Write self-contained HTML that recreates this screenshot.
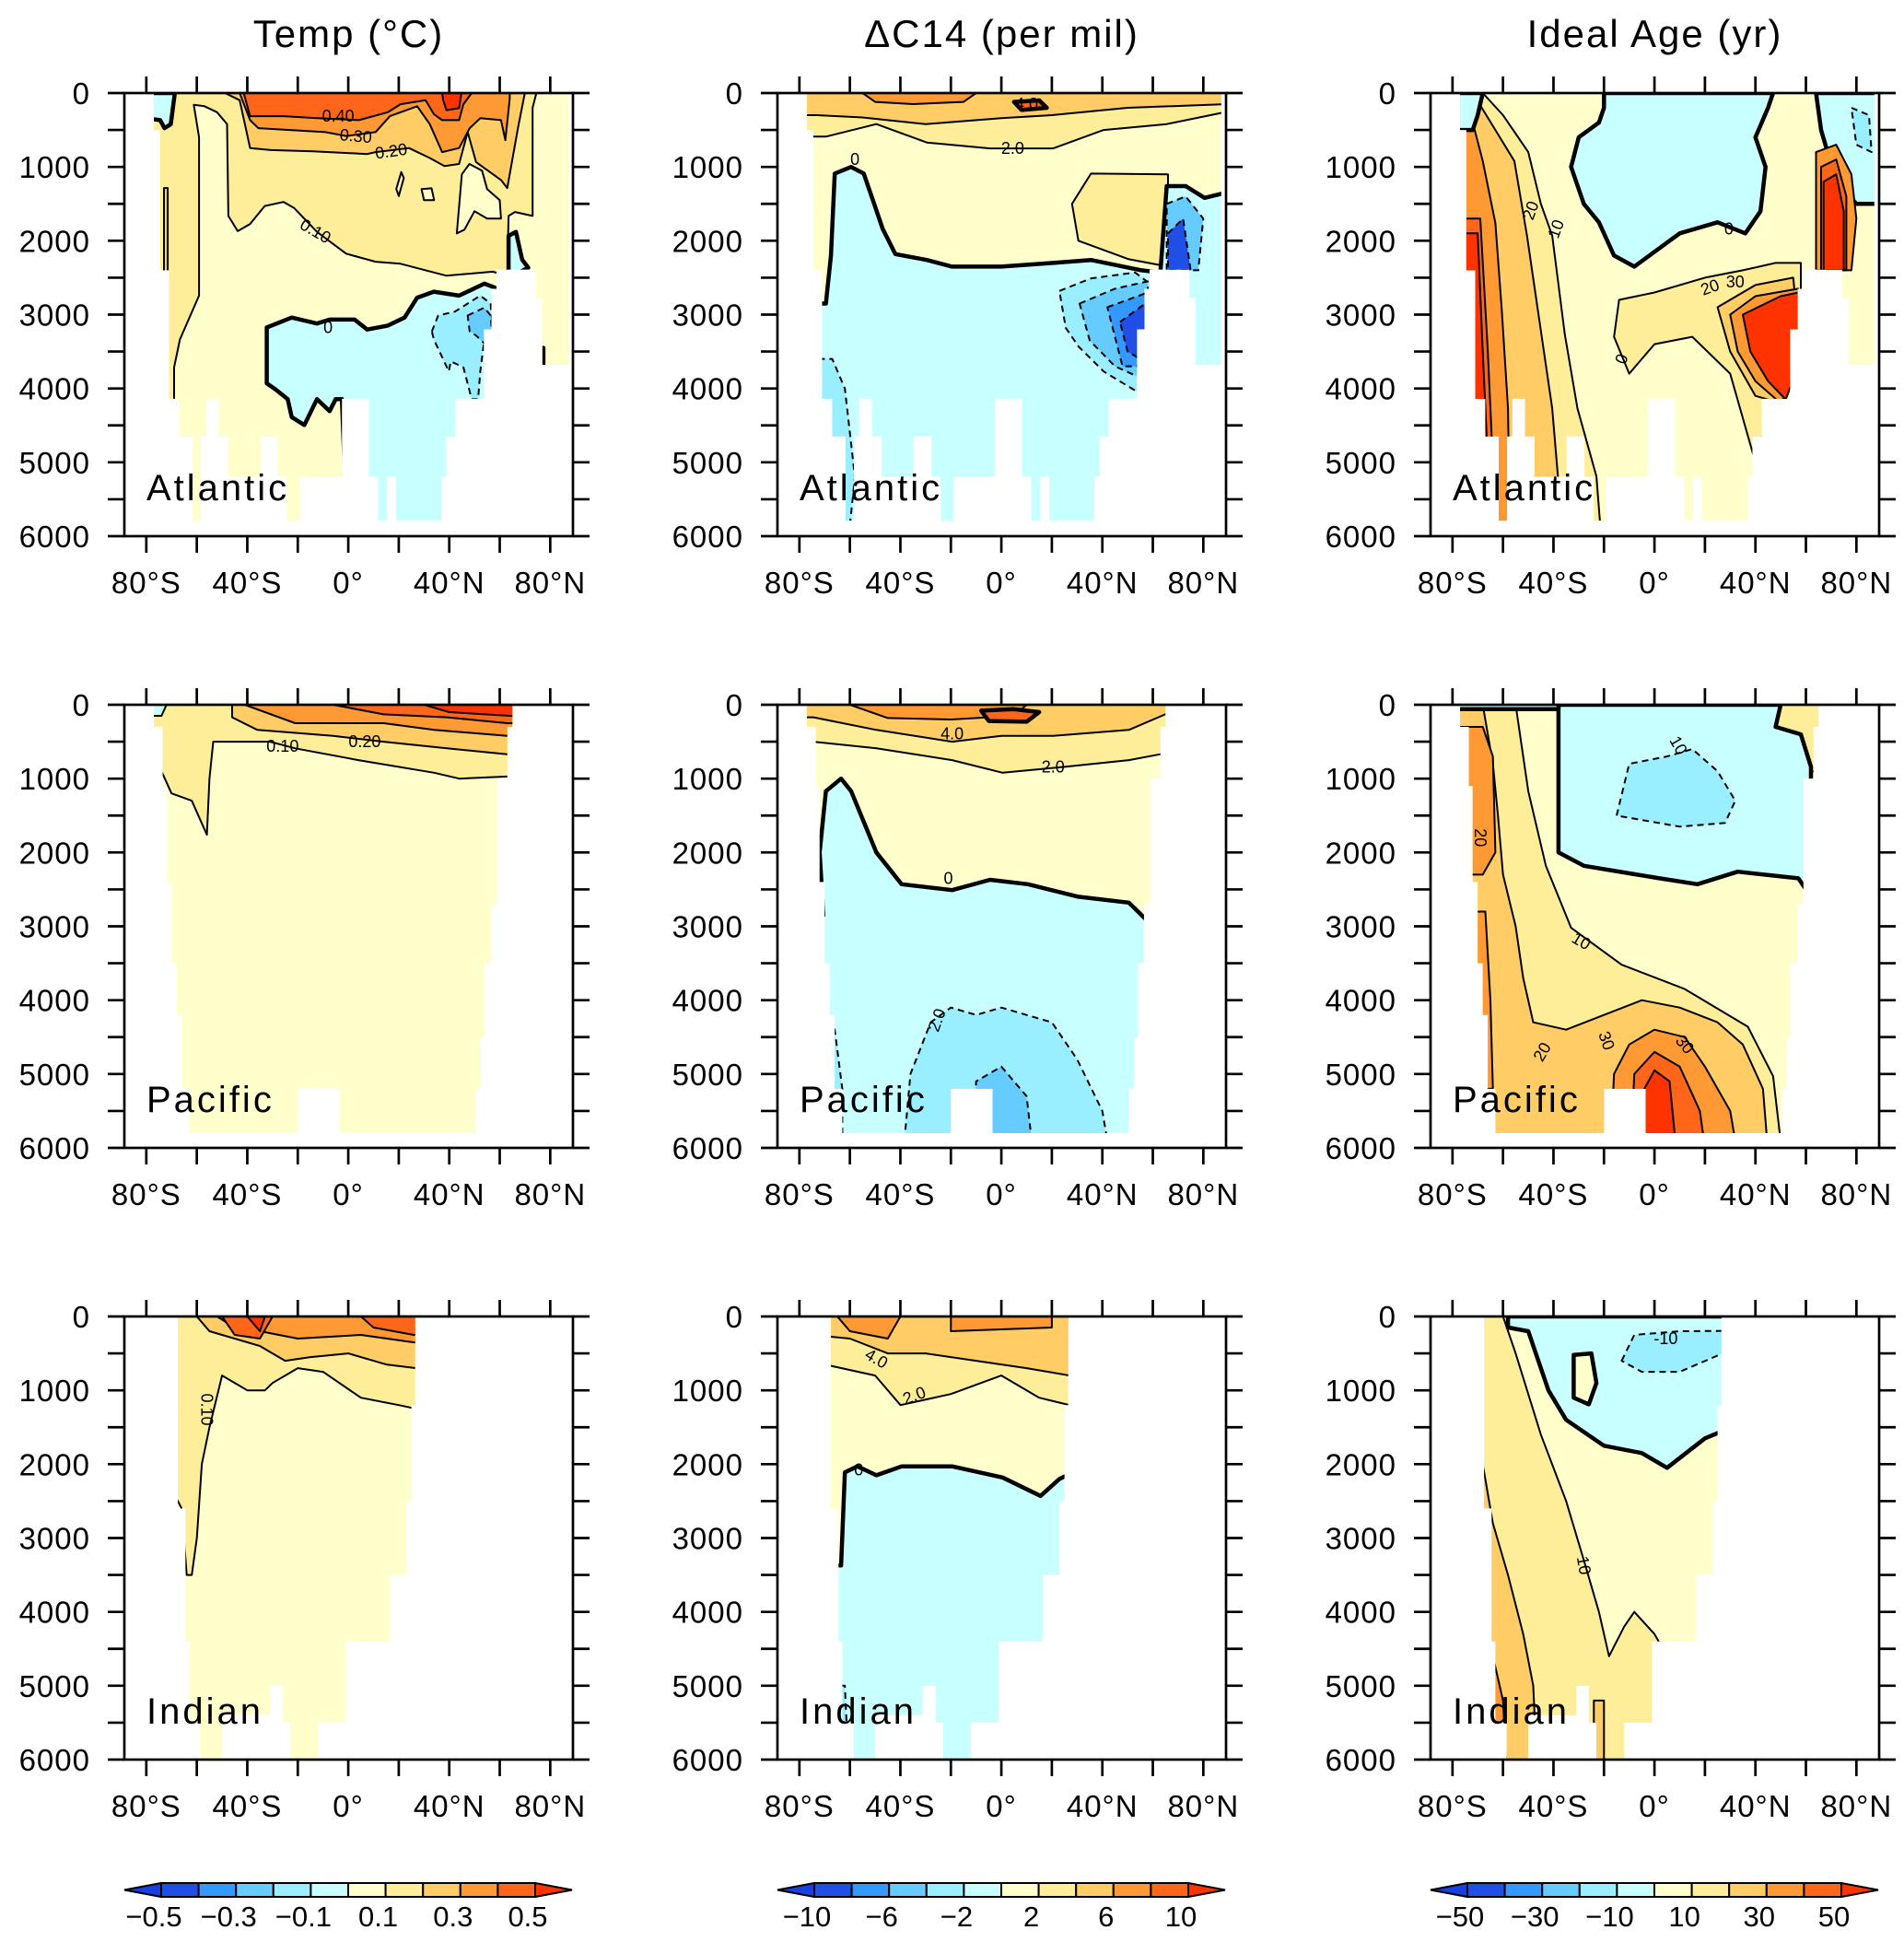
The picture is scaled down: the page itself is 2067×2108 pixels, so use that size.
<!DOCTYPE html>
<html><head><meta charset="utf-8"><title>Ocean sections</title>
<style>
html,body{margin:0;padding:0;background:#fff;}
svg{display:block;font-family:"Liberation Sans",sans-serif;}
</style></head>
<body>
<svg id="fig" width="2067" height="2108" viewBox="0 0 2067 2108" xmlns="http://www.w3.org/2000/svg"></svg>
<script>
const titles=["Temp (°C)","ΔC14 (per mil)","Ideal Age (yr)"];
const basinNames=["Atlantic","Pacific","Indian"];
const latTicks=[-80,-60,-40,-20,0,20,40,60,80];
const latLabels=[[-80,"80°S"],[-40,"40°S"],[0,"0°"],[40,"40°N"],[80,"80°N"]];
const depthTicks=[0,500,1000,1500,2000,2500,3000,3500,4000,4500,5000,5500,6000];
const depthLabels=[0,1000,2000,3000,4000,5000,6000];
const cbLabels=[["-0.5","-0.3","-0.1","0.1","0.3","0.5"],["-10","-6","-2","2","6","10"],["-50","-30","-10","10","30","50"]];
const palette={n5:'#1f4fe6',n4:'#3399ff',n3:'#66ccff',n2:'#99eeff',n1:'#c8ffff',p1:'#ffffcc',p2:'#ffee99',p3:'#ffcc66',p4:'#ff9933',p5:'#ff6619',p6:'#ff3300'};
const cbColors=['n5','n4','n3','n2','n1','p1','p2','p3','p4','p5'];

const maskAtl=[[-77,-74.5,500],[-74.5,-71,2400],[-71,-67,4140],[-67,-61.7,4650],[-61.7,-58.4,5790],[-58.4,-56.3,4650],[-56.3,-51.3,4140],[-51.3,-47.5,4650],[-47.5,-34.8,5195],[-34.8,-27.7,4650],[-27.7,-24,5195],[-24,-19,5790],[-19,-2.5,5195],[-2.5,8.2,4140],[8.2,11.8,5195],[11.8,15.3,5787],[15.3,19,5195],[19,36.8,5787],[36.8,38.8,5195],[38.8,42.5,4655],[42.5,53.7,4140],[53.7,56.7,3200],[56.7,58.7,2650],[58.7,74.4,2390],[74.4,76.9,2770],[76.9,87.1,3680]];
const maskPac=[[-77,-73.5,300],[-73.5,-72,1100],[-72,-70,2400],[-70,-68,3500],[-68,-66,4200],[-66,-63,5200],[-63,-20,5800],[-20,-3.5,5200],[-3.5,50.5,5800],[50.5,52.5,5200],[52.5,54,4500],[54,56.5,3500],[56.5,59,2700],[59,63,1000],[63,65,300]];
const maskInd=[[-67.5,-64.5,2600],[-64.5,-63,4400],[-63,-58.5,5500],[-58.5,-50,6000],[-50,-31,5400],[-31,-26,5000],[-26,-23,5500],[-23,-12,6000],[-12,-1,5500],[-1,16.5,4400],[16.5,23,3500],[23,25,2500],[25,26.5,1200]];
const masks=[maskAtl,maskPac,maskInd];

const tempAtl=[
 ['p2','none',[[-90,0],[90,0],[90,6500],[-90,6500]]],
 ['p1','thin',[[-61.2,160],[-57,178],[-52,260],[-48,420],[-47.5,1664],[-43.8,1870],[-38.9,1772],[-33.1,1529],[-25.6,1475],[-21.5,1556],[-12.4,1880],[-0.8,2176],[10.8,2284],[20.7,2311],[38.9,2473],[57.2,2419],[63,2473],[63.5,1664],[66,1610],[73,1664],[73,200],[74.5,0],[90,0],[90,6500],[-69,6500],[-69,3715],[-66.7,3337],[-59.1,2743],[-59.1,600]]],
 ['p1','thin',[[43,1900],[45,1100],[48,960],[53,1050],[55,1300],[60,1450],[60.5,1700],[55,1700],[50,1600],[46,1850]]],
 ['p1','thin',[[21,1070],[22,1150],[20,1394],[19,1300]]],
 ['p1','thin',[[29,1300],[33,1290],[34,1450],[30,1450]]],
 ['p3','thin',[[-73,1286],[-71.5,1286],[-71.5,2419],[-73,2419]]],
 ['p3','thin',[[-48.8,0],[-43,97],[-38.9,745],[-30.6,772],[-14,788],[7.5,826],[10.8,799],[24,745],[32.3,880],[38.1,988],[43.9,961],[47.3,529],[50.6,934],[60.5,1178],[63,1286],[67.2,475],[69.7,43],[70,0]]],
 ['p4','thin',[[-43,0],[-38.9,367],[-35.6,475],[-9.1,529],[-0.8,583],[10.8,529],[16.5,313],[27.3,178],[32.3,421],[37.2,799],[43.9,745],[48.1,475],[52.3,340],[60.5,367],[62.2,637],[63.9,97],[64,0]]],
 ['p5','thin',[[-41.4,0],[-38.9,313],[-25.6,313],[-12.4,340],[4.2,367],[15.7,259],[20.7,151],[30.6,97],[33.9,286],[37.2,367],[43.9,367],[45.6,151],[48.9,0]]],
 ['p6','thin',[[37.2,0],[44.8,0],[43.9,205],[38.9,232],[37.6,97]]],
 ['n1','thick',[[-32.3,3175],[-22.4,3040],[-12.4,3121],[-7.4,3067],[2.5,3067],[7.5,3202],[15.7,3148],[22.3,3040],[27.3,2770],[33.9,2689],[43.9,2743],[53.9,2581],[58.1,2635],[58.1,6500],[-1.6,6500],[-1.6,4954],[-2.5,4145],[-5,4145],[-7.4,4307],[-12.4,4145],[-17.4,4496],[-22.4,4388],[-24,4145],[-28.9,4011],[-32.3,3930]]],
 ['n2','dash',[[33.1,3229],[35.6,3013],[42.3,2959],[52.3,2743],[56.4,2851],[56.9,3229],[53.9,3337],[52.3,3769],[51.4,4145],[48.9,4145],[45.6,3715],[40.6,3634],[39.8,3769],[33.9,3337]]],
 ['n3','dash',[[47.3,3013],[53.9,2905],[56.4,3013],[56.9,3229],[53.9,3391],[50.6,3283],[48.1,3229]]],
 ['n1','thick',[[-90,0],[-68.7,0],[-70.3,421],[-72.8,475],[-74.5,367],[-90,300]]],
 ['n1','thick',[[63.5,1934],[66.4,1880],[68.9,2257],[71.3,2365],[63.5,2500]]],
 ['p1','thick',[[76.5,3450],[77.3,3450],[77.3,3680],[76.5,3680]]]
];
const c14Atl=[
 ['p2','thin',[[-90,0],[90,0],[90,250],[65.5,420],[40.5,500],[20.5,750],[-4.5,750],[-29.5,670],[-49.5,420],[-69.5,590],[-90,590]]],
 ['p2','thin',[[35.5,1090],[28,1500],[30.5,2000],[50.5,2250],[66,2350],[66,1100]]],
 ['p3','thin',[[-90,0],[90,0],[90,150],[50,200],[20,300],[0,340],[-30,420],[-55,330],[-73,300],[-90,300]]],
 ['p4','thin',[[-55,0],[-10,0],[-15,120],[-35,150],[-50,120]]],
 ['p5','thick',[[5,120],[15,100],[18,200],[8,230]]],
 ['n1','thick',[[-90,2850],[-69.5,2850],[-67.5,2200],[-66,1090],[-59.5,1000],[-54.5,1090],[-47,1840],[-42,2180],[-29.5,2260],[-19.5,2350],[0,2350],[20.5,2300],[35.5,2260],[55.5,2400],[63,2430],[65.5,1260],[73,1260],[80.5,1420],[90,1340],[90,6500],[-90,6500]]],
 ['n2','dash',[[23,2680],[35.5,2510],[53,2430],[59.5,2600],[56.5,4100],[40.5,3770],[30.5,3430],[25.5,3180]]],
 ['n3','dash',[[31,2850],[45,2650],[58,2550],[58,3900],[45,3700],[35,3350]]],
 ['n4','dash',[[42,2900],[58,2700],[58,3700],[48,3700]]],
 ['n5','dash',[[47,3100],[59,2800],[60,3700],[50,3500]]],
 ['n3','dash',[[65.5,1500],[73,1400],[80,1700],[78,2400],[65.5,2400]]],
 ['n5','dash',[[66,1900],[72,1700],[75,2400],[66,2400]]],
 ['n2','dash',[[-90,3600],[-67,3600],[-62,4000],[-58,5200],[-62,6500],[-90,6500]]]
];
const ageAtl=[
 ['p2','thin',[[-90,0],[-68,0],[-60,300],[-50,800],[-45,1500],[-40.5,1930],[-35.5,3270],[-30.5,4270],[-23,5190],[-20,6500],[-90,6500]]],
 ['p3','thin',[[-90,0],[-72,0],[-63,500],[-55.5,920],[-50.5,1930],[-45.5,3100],[-40.5,4270],[-38,5280],[-37,6500],[-90,6500]]],
 ['p4','thin',[[-90,0],[-75,0],[-68,920],[-63,1760],[-60.5,2930],[-58,4270],[-57,6500],[-90,6500]]],
 ['p5','thin',[[-90,1700],[-69,1700],[-66,3500],[-64,5000],[-63,6500],[-90,6500]]],
 ['p6','thin',[[-90,1900],[-70,1900],[-68,3500],[-66,5000],[-65.5,6500],[-90,6500]]],
 ['n1','thick',[[-20,0],[47,0],[45,200],[40,600],[44,1000],[42,1600],[36,1900],[25,1750],[10,1900],[-8,2350],[-16,2200],[-22,1750],[-28,1500],[-33,1000],[-30,600],[-22,400],[-20,200]]],
 ['n1','thick',[[-90,0],[-68,0],[-70,300],[-72,500],[-90,500]]],
 ['n1','thick',[[64,0],[90,0],[90,1500],[80,1500],[72,1200],[66,500]]],
 ['n2','dash',[[78,200],[85,300],[86,800],[80,700]]],
 ['p4','thin',[[64,800],[72,700],[78,1100],[80,1700],[78,2400],[64,2400]]],
 ['p5','thin',[[66,1000],[72,900],[76,1400],[76,2400],[66,2400]]],
 ['p6','thin',[[67,1200],[72,1100],[75,1600],[75,2400],[67,2400]]],
 ['p2','thin',[[-16,3300],[-14,2800],[0,2700],[20,2500],[35,2400],[48,2300],[58,2300],[58,3600],[50,4200],[44,4500],[40,5000],[30,3800],[15,3300],[0,3400],[-10,3800]]],
 ['p3','thin',[[25,2900],[40,2600],[55,2500],[58,3600],[50,4200],[40,4100],[30,3500]]],
 ['p4','thin',[[30,3000],[40,2750],[57,2650],[57,3800],[50,4200],[40,3900],[33,3500]]],
 ['p6','thin',[[35,3000],[50,2750],[57,2700],[57,3700],[52,4150],[45,3900],[38,3500]]]
];
const tempPac=[
 ['p2','thin',[[-90,0],[90,0],[90,970],[64,970],[44,1000],[34,920],[4,750],[-21,590],[-31,500],[-53.5,500],[-55,1000],[-56,1760],[-62,1300],[-70,1200],[-74,900],[-90,300]]],
 ['p3','thin',[[-46,0],[-46,170],[-36,340],[-6,420],[14,500],[39,590],[63,670],[90,670],[90,0]]],
 ['p4','thin',[[-41,0],[-21,250],[14,250],[34,340],[63,420],[90,420],[90,0]]],
 ['p5','thin',[[-6,0],[14,130],[39,170],[63,250],[90,250],[90,0]]],
 ['p6','thin',[[30,0],[90,0],[90,150],[64,150],[40,100]]],
 ['n1','thin',[[-90,0],[-72,0],[-74,150],[-90,150]]]
];
const c14Pac=[
 ['p2','thin',[[-90,0],[90,0],[90,500],[63,670],[50.5,750],[25.5,840],[0.5,920],[-19.5,750],[-49.5,590],[-74.5,500],[-90,500]]],
 ['p3','thin',[[-90,0],[90,0],[90,85],[68,85],[50.5,340],[20.5,420],[0,420],[-19.5,500],[-49.5,340],[-74.5,170],[-90,170]]],
 ['p4','thin',[[-60,0],[10,0],[5,150],[-20,200],[-45,180]]],
 ['p5','thick',[[-8,80],[5,60],[15,100],[10,230],[-5,220]]],
 ['n1','thick',[[-90,2850],[-70.5,2850],[-72,2000],[-69.5,1170],[-63.5,1000],[-59.5,1170],[-49.5,2000],[-39.5,2430],[-19.5,2510],[-4.5,2370],[10.5,2430],[30.5,2600],[50.5,2680],[58,2930],[90,2930],[90,6500],[-90,6500]]],
 ['n2','dash',[[-40,6500],[-36,5000],[-28,4300],[-20,4100],[-10,4200],[0,4100],[20,4300],[30,4800],[40,5500],[45,6500]]],
 ['n2','dash',[[-90,4000],[-72,4000],[-66,4400],[-63,5200],[-63,6500],[-90,6500]]],
 ['n3','dash',[[-12,6500],[-10,5100],[0,4900],[10,5300],[14,6500]]]
];
const agePac=[
 ['p2','thin',[[-90,0],[-55,0],[-50,1170],[-43,2180],[-33,3020],[-13,3520],[12,3850],[37,4360],[47,5030],[52,6500],[-90,6500]]],
 ['p3','thin',[[-90,0],[-68,0],[-64,800],[-62,1500],[-60,2300],[-55,3000],[-52,3700],[-48,4300],[-35,4400],[-20,4200],[-5,4000],[10,4100],[25,4300],[35,4600],[43,5200],[46,6500],[-90,6500]]],
 ['p4','thin',[[-90,300],[-68,300],[-64,700],[-63,2000],[-68,2300],[-90,2300]]],
 ['p4','thin',[[-90,2800],[-67,2800],[-65,4000],[-64,5200],[-90,5200]]],
 ['p4','thin',[[-18,6500],[-16,5000],[-10,4600],[0,4400],[12,4500],[20,4900],[30,5500],[35,6500]]],
 ['p5','thin',[[-10,6500],[-8,5000],[0,4700],[10,4900],[18,5500],[22,6500]]],
 ['p6','thin',[[-4,6500],[-4,5200],[0,4950],[6,5100],[10,6500]]],
 ['p2','thin',[[48,0],[90,0],[90,1000],[62,900],[58,400],[48,300]]],
 ['n1','thick',[[-38,0],[50,0],[48,300],[58,400],[62,840],[62,2600],[57,2350],[33,2260],[17,2430],[2,2350],[-28,2180],[-38,2000],[-38,400]]],
 ['n1','thick',[[-90,-50],[-38,-50],[-38,60],[-90,60]]],
 ['n2','dash',[[-15,1500],[-10,800],[5,700],[15,600],[25,900],[32,1300],[28,1600],[10,1650]]]
];
const tempInd=[
 ['p2','thin',[[-90,0],[90,0],[90,1250],[27,1250],[20,1200],[5,1100],[-10,750],[-20,700],[-30,900],[-33,1000],[-40,1000],[-50,800],[-55,1500],[-58,2000],[-60,3000],[-62,3500],[-64,3500],[-66,2600],[-90,1000]]],
 ['p3','thin',[[-60,0],[90,0],[90,700],[27,700],[15,650],[0,500],[-15,550],[-25,600],[-35,400],[-45,300],[-55,200]]],
 ['p4','thin',[[-52,0],[90,0],[90,350],[26,350],[5,250],[-20,300],[-35,200],[-45,150]]],
 ['p5','thin',[[-50,0],[-30,0],[-35,300],[-45,250]]],
 ['p5','thin',[[5,0],[90,0],[90,250],[26,250],[10,150]]],
 ['p6','thin',[[-40,0],[-33,0],[-35,200]]]
];
const c14Ind=[
 ['p2','thin',[[-90,0],[90,0],[90,1200],[27,1200],[15,1100],[0,800],[-20,1050],[-40,1200],[-50,800],[-90,500]]],
 ['p3','thin',[[-90,0],[90,0],[90,800],[27,800],[10,700],[-10,600],[-30,500],[-45,500],[-60,300],[-90,200]]],
 ['p4','thin',[[-65,0],[-40,0],[-45,300],[-60,200]]],
 ['p4','thin',[[-20,0],[20,0],[20,150],[-20,200]]],
 ['n1','thick',[[-90,3370],[-63.5,3370],[-62,2110],[-57,2030],[-49.5,2150],[-39.5,2030],[-19.5,2030],[0.5,2180],[15.5,2430],[23,2200],[26,2150],[90,2150],[90,6500],[-90,6500]]],
 ['n2','dash',[[-90,5000],[-62,5000],[-60,6500],[-90,6500]]]
];
const ageInd=[
 ['p2','thin',[[-90,0],[-60,0],[-55,500],[-45,1600],[-35,2500],[-28,3300],[-22,4000],[-18,4600],[-12,4200],[-8,4000],[0,4300],[5,4600],[8,6500],[-90,6500]]],
 ['p3','thin',[[-90,2000],[-68,2000],[-64,2800],[-58,3500],[-52,4300],[-48,5000],[-46,6500],[-90,6500]]],
 ['p3','thin',[[-24,5200],[-20,5200],[-20,6500],[-24,6500]]],
 ['p4','thin',[[-90,4600],[-64,4600],[-60,5200],[-58,6500],[-90,6500]]],
 ['n1','thick',[[-58,0],[90,0],[90,1550],[27,1550],[20,1650],[5,2050],[-5,1850],[-20,1750],[-35,1400],[-42,1000],[-50,200],[-58,150]]],
 ['p1','thick',[[-32,520],[-25,500],[-23,900],[-26,1190],[-32,1100]]],
 ['n2','dash',[[-13,600],[-8,250],[10,200],[90,180],[90,500],[27,500],[10,750],[-5,750]]]
];
const panelLayers=[[tempAtl,c14Atl,ageAtl],[tempPac,c14Pac,agePac],[tempInd,c14Ind,ageInd]];
const contourLabels=[
 [[[-4,313,"0.40",0],[3,583,"0.30",5],[17,788,"0.20",-8],[-13,1870,"0.10",30],[-8,3175,"0",0]],
  [[10,150,"4.0",0],[4.5,750,"2.0",0],[-58,900,"0",0]],
  [[-49,1590,"20",-70],[-39,1840,"10",-70],[29.5,1840,"0",0],[22,2630,"20",-20],[32,2560,"30",0],[-13,3600,"0",-70]]],
 [[[-26,560,"0.10",0],[6.5,500,"0.20",0]],
  [[-19.5,390,"4.0",0],[20.5,840,"2.0",0],[-21,2350,"0",0],[-25.5,4270,"2.0",-70]],
  [[9.5,550,"10",60],[-69,1800,"20",90],[-29,3200,"10",30],[-44.5,4700,"20",-60],[-19,4550,"30",70],[12,4600,"30",50]]],
 [[[-56,1260,"0.10",90]],
  [[-49.5,570,"4.0",30],[-34.5,1070,"2.0",-20],[-56.5,2080,"0",0]],
  [[4.5,300,"-10",0],[-28,3370,"10",80]]]
];

const PL=[135,844,1553], PT=[101,765,1429], W=487, H=481;
const NS='http://www.w3.org/2000/svg';
const svg=document.getElementById('fig');
function sx(c,lat){return PL[c]+(lat+88.7)/177.7*W;}
function sy(r,d){return PT[r]+d/6000*H;}
function mk(tag,attrs,parent){const e=document.createElementNS(NS,tag);for(const k in attrs)e.setAttribute(k,attrs[k]);(parent||svg).appendChild(e);return e;}
const defs=mk('defs',{});

titles.forEach((t,c)=>{
  const e=mk('text',{x:PL[c]+W/2,y:51,'text-anchor':'middle','font-size':42,'letter-spacing':2});
  e.textContent=t;
  
  
});

for(let r=0;r<3;r++){
  for(let c=0;c<3;c++){
    const g=mk('g',{});
    
    
    const steps=masks[r];
    let d='M'+sx(c,steps[0][0])+','+sy(r,0);
    steps.forEach(s=>{d+=' L'+sx(c,s[0])+','+sy(r,s[2])+' L'+sx(c,s[1])+','+sy(r,s[2]);});
    d+=' L'+sx(c,steps[steps.length-1][1])+','+sy(r,0)+' Z';
    const cp=mk('clipPath',{id:'cl'+r+c},defs);
    mk('path',{d:d},cp);
    const base=mk('path',{d:d,fill:palette.p1},g);
    
    
    const lg=mk('g',{'clip-path':'url(#cl'+r+c+')'},g);
    panelLayers[r][c].forEach(L=>{
      const pts=L[2].map(p=>sx(c,p[0]).toFixed(1)+','+sy(r,p[1]).toFixed(1)).join(' ');
      const a={points:pts,fill:palette[L[0]]};
      if(L[1]==='none'){a.stroke='none';}
      else{a.stroke='#000';a['stroke-width']=L[1]==='thick'?4.5:2;if(L[1]==='dash')a['stroke-dasharray']='7,5';a['stroke-linejoin']='round';}
      const p=mk('polygon',a,lg);
      
      
    });
    contourLabels[r][c].forEach(l=>{
      const x=sx(c,l[0]),y=sy(r,l[1]);
      const t=mk('text',{x:x,y:y+6,'text-anchor':'middle','font-size':18,transform:'rotate('+l[3]+' '+x+' '+y+')'},g);
      t.textContent=l[2];
      
      
    });
    const bl=mk('text',{x:PL[c]+24,y:PT[r]+442,'font-size':40,'letter-spacing':3},g);
    bl.textContent=basinNames[r];
    
    
    const fr=mk('rect',{x:PL[c],y:PT[r],width:W,height:H,fill:'none',stroke:'#000','stroke-width':2.7},g);
    
    
    latTicks.forEach(t=>{
      const x=sx(c,t);
      mk('line',{x1:x,y1:PT[r],x2:x,y2:PT[r]-18,stroke:'#000','stroke-width':2.7},g);
      mk('line',{x1:x,y1:PT[r]+H,x2:x,y2:PT[r]+H+18,stroke:'#000','stroke-width':2.7},g);
    });
    depthTicks.forEach(t=>{
      const y=sy(r,t);
      mk('line',{x1:PL[c],y1:y,x2:PL[c]-18,y2:y,stroke:'#000','stroke-width':2.7},g);
      mk('line',{x1:PL[c]+W,y1:y,x2:PL[c]+W+18,y2:y,stroke:'#000','stroke-width':2.7},g);
    });
    depthLabels.forEach(t=>{
      const e=mk('text',{x:PL[c]-37,y:sy(r,t)+12,'text-anchor':'end','font-size':33,'letter-spacing':1},g);
      e.textContent=t;
      
      
    });
    latLabels.forEach(l=>{
      const e=mk('text',{x:sx(c,l[0]),y:PT[r]+H+62,'text-anchor':'middle','font-size':33,'letter-spacing':1},g);
      e.textContent=l[1];
      
      
    });
  }
}

for(let c=0;c<3;c++){
  const g=mk('g',{});
  
  
  const x0=PL[c], bx=x0+40, bw=40.6, y0=2044, bh=15;
  mk('polygon',{points:x0+','+(y0+bh/2)+' '+bx+','+y0+' '+bx+','+(y0+bh),fill:'#1a3fe0',stroke:'#000','stroke-width':2},g);
  mk('polygon',{points:(bx+10*bw)+','+y0+' '+(bx+10*bw+40)+','+(y0+bh/2)+' '+(bx+10*bw)+','+(y0+bh),fill:palette.p6,stroke:'#000','stroke-width':2},g);
  cbColors.forEach((k,i)=>{
    const b=mk('rect',{x:bx+i*bw,y:y0,width:bw,height:bh,fill:palette[k],stroke:'#000','stroke-width':2},g);
    
    
  });
  cbLabels[c].forEach((t,i)=>{
    const e=mk('text',{x:bx+i*2*bw-8,y:2091,'text-anchor':'middle','font-size':31},g);
    e.textContent=t.replace('-','\u2212');
    
    
  });
}
</script>
</body></html>
